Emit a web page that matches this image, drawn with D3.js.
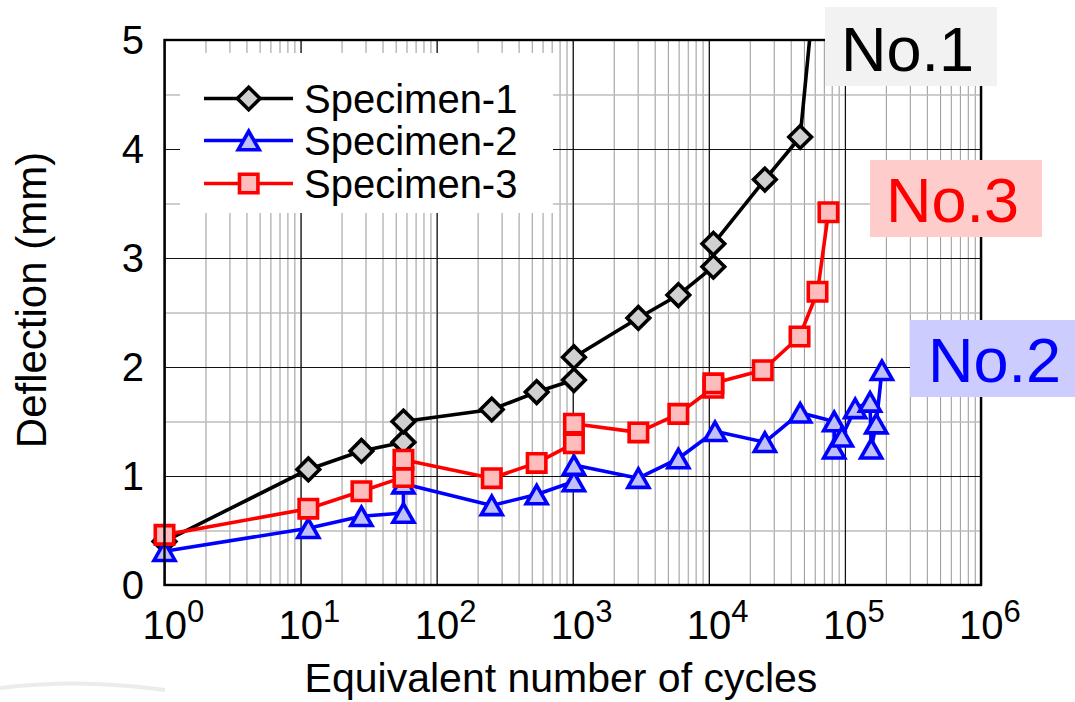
<!DOCTYPE html>
<html>
<head>
<meta charset="utf-8">
<script src="https://cdn.jsdelivr.net/npm/d3@7"></script>
<style>
  body { margin: 0; background: #fff; }
  svg { display: block; font-family: "Liberation Sans", Arial, sans-serif; }
</style>
</head>
<body>
<svg id="chart" width="1075" height="702"></svg>
<script>
// Equivalent number of cycles (x) and deflection in mm (y) for each specimen
const s1Cycles = [1, 11.4, 28, 57, 57, 254, 543, 1020, 1020, 3035, 5970, 10800, 10800, 25800, 46900, 55000];
const s1Defl   = [0.40, 1.06, 1.23, 1.31, 1.50, 1.61, 1.77, 1.88, 2.09, 2.45, 2.66, 2.92, 3.13, 3.72, 4.11, 5.0];

const s2Cycles = [1, 11.4, 28, 57, 57, 254, 543, 1020, 1020, 3035, 5970, 11100, 25800, 46900, 83400, 83400, 95000, 119000, 153000, 156000, 170000, 187000];
const s2Defl   = [0.31, 0.52, 0.63, 0.66, 0.93, 0.73, 0.83, 0.95, 1.10, 0.98, 1.16, 1.41, 1.31, 1.58, 1.50, 1.25, 1.36, 1.62, 1.68, 1.25, 1.48, 1.97];

const s3Cycles = [1, 11.4, 28, 57, 57, 254, 543, 1020, 1020, 3035, 5970, 10800, 10800, 24900, 46400, 62900, 75700];
const s3Defl   = [0.46, 0.70, 0.86, 0.99, 1.15, 0.98, 1.12, 1.30, 1.48, 1.40, 1.57, 1.81, 1.85, 1.97, 2.28, 2.69, 3.42];

const seriesNames = ["Specimen-1", "Specimen-2", "Specimen-3"];
const tagLabels = ["No.1", "No.2", "No.3"];
const xTickExps = [0, 1, 2, 3, 4, 5, 6];
const yTickValues = [0, 1, 2, 3, 4, 5];

const svg = d3.select("#chart");
const pLeft = 164.5, pRight = 981, pTop = 40, pBottom = 585;

const x = d3.scaleLog().domain([1, 1e6]).range([pLeft, pRight]);
const y = d3.scaleLinear().domain([0, 5]).range([pBottom, pTop]);

// faint decoration in the lower-left corner
svg.append("path")
    .attr("d", "M0,688 Q80,678 165,690")
    .attr("fill", "none")
    .attr("stroke", "#ececec")
    .attr("stroke-width", 4);

// Minor gridlines
svg.append("g")
    .attr("transform", `translate(0,${pBottom})`)
    .call(d3.axisBottom(x).tickValues(x.ticks()).tickSize(-(pBottom - pTop)).tickFormat(""))
    .call(g => g.select(".domain").remove())
    .call(g => g.selectAll("line").attr("stroke", "#a0a0a0").attr("stroke-width", 1.1));
svg.append("g")
    .attr("transform", `translate(${pLeft},0)`)
    .call(d3.axisLeft(y).tickValues(d3.range(0.5, 5, 1)).tickSize(-(pRight - pLeft)).tickFormat(""))
    .call(g => g.select(".domain").remove())
    .call(g => g.selectAll("line").attr("stroke", "#bdbdbd").attr("stroke-width", 1.4));

// Major gridlines
svg.append("g")
    .attr("transform", `translate(0,${pBottom})`)
    .call(d3.axisBottom(x).tickValues(xTickExps.map(e => Math.pow(10, e))).tickSize(-(pBottom - pTop)).tickFormat(""))
    .call(g => g.select(".domain").remove())
    .call(g => g.selectAll("line").attr("stroke", "#111").attr("stroke-width", 1.2));
svg.append("g")
    .attr("transform", `translate(${pLeft},0)`)
    .call(d3.axisLeft(y).tickValues(yTickValues).tickSize(-(pRight - pLeft)).tickFormat(""))
    .call(g => g.select(".domain").remove())
    .call(g => g.selectAll("line").attr("stroke", "#111").attr("stroke-width", 1.2));

// Legend background sits over the grid
svg.append("rect")
    .attr("x", 180).attr("y", 53).attr("width", 373).attr("height", 160)
    .attr("fill", "#fff");

// Marker shapes
const diamond = { draw(ctx, s) { const r = Math.sqrt(s) / 2 * Math.SQRT2; ctx.moveTo(0, -r); ctx.lineTo(r, 0); ctx.lineTo(0, r); ctx.lineTo(-r, 0); ctx.closePath(); } };
const triangle = { draw(ctx, s) { const w = Math.sqrt(s); const h = w * 0.88; ctx.moveTo(0, -h / 2); ctx.lineTo(w / 2, h / 2); ctx.lineTo(-w / 2, h / 2); ctx.closePath(); } };
const square = { draw(ctx, s) { const r = Math.sqrt(s) / 2; ctx.rect(-r, -r, 2 * r, 2 * r); } };

const series = [
  { name: seriesNames[0], n: s1Cycles, d: s1Defl, stroke: "#000", fill: "#d0d0d0", shape: diamond, size: 256 },
  { name: seriesNames[1], n: s2Cycles, d: s2Defl, stroke: "#0000ff", fill: "#c0c0f8", shape: triangle, size: 441 },
  { name: seriesNames[2], n: s3Cycles, d: s3Defl, stroke: "#ff0000", fill: "#ffbcbc", shape: square, size: 340 }
];

svg.append("clipPath").attr("id", "plotclip")
  .append("rect").attr("x", pLeft).attr("y", pTop).attr("width", pRight - pLeft).attr("height", pBottom - pTop);

const line = d3.line().x(p => x(p[0])).y(p => y(p[1]));

// black first, then blue, red ends up on top
series.forEach(s => {
  const pts = s.n.map((v, j) => [v, s.d[j]]);
  const g = svg.append("g");
  g.append("path")
      .attr("d", line(pts))
      .attr("clip-path", "url(#plotclip)")
      .attr("fill", "none")
      .attr("stroke", s.stroke)
      .attr("stroke-width", 3.6)
      .attr("stroke-linejoin", "round");
  g.selectAll("path.mk")
      .data(pts.filter(p => p[1] < 5))
    .join("path")
      .attr("class", "mk")
      .attr("transform", p => `translate(${x(p[0])},${y(p[1])})`)
      .attr("d", d3.symbol().type(s.shape).size(s.size))
      .attr("fill", s.fill)
      .attr("stroke", s.stroke)
      .attr("stroke-width", 3.6)
      .attr("stroke-linejoin", "miter");
});

// Legend entries
const legendRows = [98.5, 140.5, 183.5];
series.forEach((s, i) => {
  const ly = legendRows[i];
  svg.append("line")
      .attr("x1", 204).attr("x2", 293).attr("y1", ly).attr("y2", ly)
      .attr("stroke", s.stroke).attr("stroke-width", 3.6);
  svg.append("path")
      .attr("transform", `translate(248.7,${ly})`)
      .attr("d", d3.symbol().type(s.shape).size(s.size))
      .attr("fill", s.fill).attr("stroke", s.stroke).attr("stroke-width", 3.6);
  svg.append("text")
      .attr("x", 304).attr("y", ly + 14)
      .attr("font-size", 40)
      .attr("fill", "#000")
      .text(s.name);
});

// Plot frame
svg.append("rect")
    .attr("x", pLeft).attr("y", pTop).attr("width", pRight - pLeft).attr("height", pBottom - pTop)
    .attr("fill", "none").attr("stroke", "#000").attr("stroke-width", 2.4);

// Y tick labels
svg.append("g").selectAll("text")
    .data(yTickValues)
  .join("text")
    .attr("x", 144).attr("y", d => y(d) + 14)
    .attr("text-anchor", "end")
    .attr("font-size", 40)
    .text(d => d);

// X tick labels with superscript exponents
const xl = svg.append("g").selectAll("text")
    .data(xTickExps)
  .join("text")
    .attr("x", e => x(Math.pow(10, e)) - 22)
    .attr("y", 639)
    .attr("font-size", 40);
xl.append("tspan").text("10");
xl.append("tspan").attr("dy", -17).attr("font-size", 31).text(e => e);

// Axis titles
svg.append("text")
    .attr("x", 561).attr("y", 692)
    .attr("text-anchor", "middle")
    .attr("font-size", 41)
    .text("Equivalent number of cycles");
svg.append("text")
    .attr("transform", "translate(46,300) rotate(-90)")
    .attr("text-anchor", "middle")
    .attr("font-size", 42)
    .text("Deflection (mm)");

// Specimen tags
const tags = [
  { label: tagLabels[0], bx: 825, by: 7, bw: 172, bh: 79, bg: "#f2f2f2", color: "#000", tx: 841, ty: 71 },
  { label: tagLabels[2], bx: 870, by: 160, bw: 172, bh: 77, bg: "#ffcccc", color: "#ff0000", tx: 886, ty: 222 },
  { label: tagLabels[1], bx: 910, by: 320, bw: 165, bh: 77, bg: "#ccccff", color: "#0000ff", tx: 928, ty: 382 }
];
tags.forEach(t => {
  svg.append("rect").attr("x", t.bx).attr("y", t.by).attr("width", t.bw).attr("height", t.bh).attr("fill", t.bg);
  svg.append("text").attr("x", t.tx).attr("y", t.ty).attr("font-size", 63).attr("fill", t.color).text(t.label);
});
</script>
</body>
</html>
